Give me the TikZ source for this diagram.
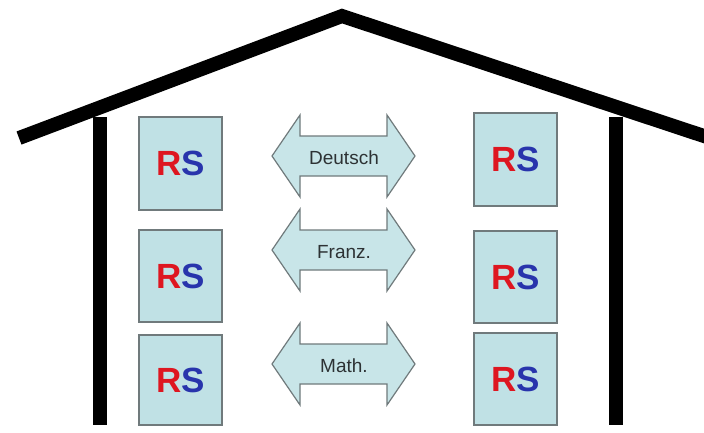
\documentclass[tikz,border=0pt]{standalone}
\usepackage{fontspec}
\setmainfont{Liberation Sans}
\definecolor{boxfill}{RGB}{192,225,229}
\definecolor{arrfill}{RGB}{200,229,232}
\definecolor{edgegray}{RGB}{112,122,124}
\definecolor{rsred}{RGB}{222,22,32}
\definecolor{rsblue}{RGB}{40,52,172}
\definecolor{txtgray}{RGB}{45,50,52}
\tikzset{
  rsbox/.style={draw=edgegray, line width=1.2pt, fill=boxfill, minimum width=83pt, minimum height=92pt, inner sep=0pt,
    font=\bfseries\fontsize{35}{35}\selectfont},
  arrowshape/.style={draw=edgegray, line width=1.2pt, fill=arrfill, line join=miter},
  arrlabel/.style={text=txtgray, font=\fontsize{19}{19}\selectfont, inner sep=0pt},
  beam/.style={line width=14pt, line cap=butt, line join=miter},
  wall/.style={line width=14pt, line cap=butt}
}
\newcommand{\RSlabel}{{\color{rsred}R}{\color{rsblue}S}}
\begin{document}
\begin{tikzpicture}[x=1pt,y=-1pt]
\clip (0,0) rectangle (704,432);
\fill[white] (0,0) rectangle (704,432);
% roof and walls
\coordinate (roofL) at (19,138);
\coordinate (roofP) at (342,16);
\coordinate (roofR) at (716,140);
\draw[beam] (roofL) -- (roofP) -- (roofR);
\coordinate (wlt) at (100,117);
\coordinate (wlb) at (100,425);
\coordinate (wrt) at (616,117);
\coordinate (wrb) at (616,425);
\draw[wall] (wlt) -- (wlb);
\draw[wall] (wrt) -- (wrb);
% boxes
\node[rsbox, minimum height=93pt] (l1) at (180.5,163.5) {\RSlabel};
\node[rsbox] (l2) at (180.5,276) {\RSlabel};
\node[rsbox, minimum height=90pt] (l3) at (180.5,380) {\RSlabel};
\node[rsbox, minimum height=93pt] (r1) at (515.5,159.5) {\RSlabel};
\node[rsbox] (r2) at (515.5,277) {\RSlabel};
\node[rsbox] (r3) at (515.5,379) {\RSlabel};
% double arrows
\foreach \cy/\nm/\txt in {156/a1/Deutsch, 250/a2/Franz., 364/a3/Math.}{
  \path[arrowshape, shift={(343.5,\cy)}]
    (-71.5,0) -- (-43.5,-41) -- (-43.5,-20) -- (43.5,-20) -- (43.5,-41) -- (71.5,0)
    -- (43.5,41) -- (43.5,20) -- (-43.5,20) -- (-43.5,41) -- cycle;
  \node[arrlabel] (\nm) at (344,\cy+2) {\txt};
}
\end{tikzpicture}
\end{document}
